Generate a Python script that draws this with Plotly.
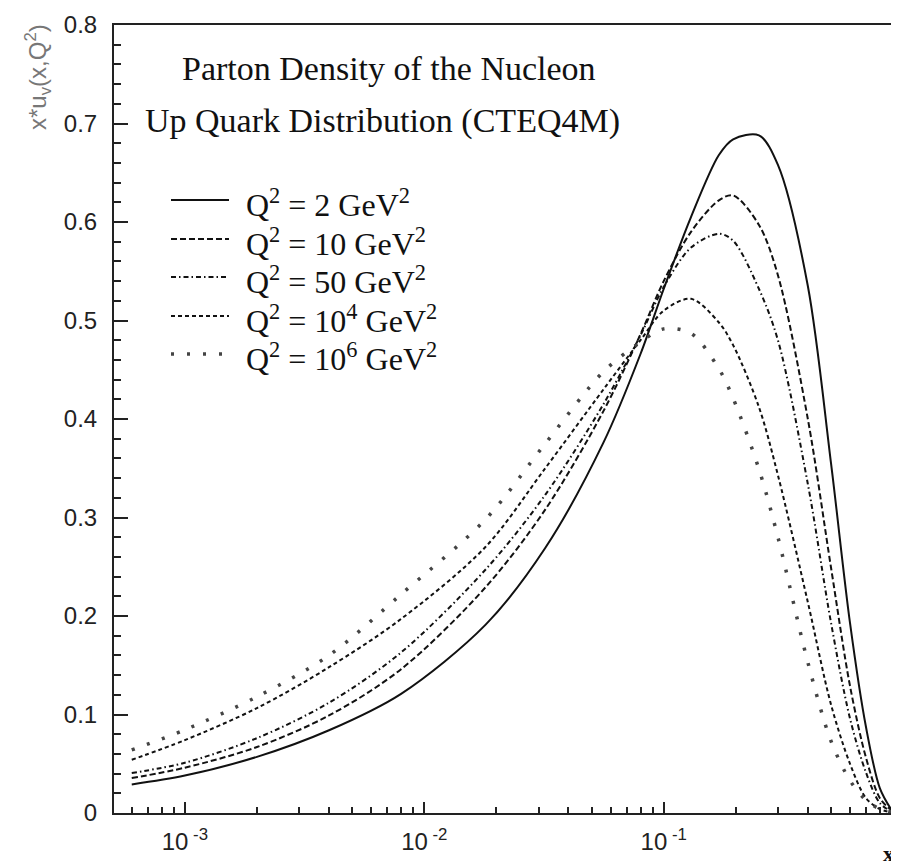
"""Parton density of the nucleon - up valence quark (CTEQ4M)"""
import plotly.graph_objects as go

# momentum fraction x (shared by all curves)
x_vals = [6e-4, 1e-3, 2e-3, 4e-3, 8e-3, 0.018, 0.032, 0.056, 0.08, 0.1,
          0.13, 0.17, 0.195, 0.25, 0.3, 0.4, 0.5, 0.6, 0.7, 0.8, 0.9]

# x*u_v(x, Q^2)
q2_2 = [0.029, 0.038, 0.057, 0.084, 0.121, 0.191, 0.269, 0.376, 0.466, 0.532,
        0.605, 0.668, 0.684, 0.688, 0.658, 0.535, 0.355, 0.193, 0.087, 0.025, 0.002]
q2_10 = [0.0355, 0.046, 0.067, 0.099, 0.146, 0.229, 0.308, 0.408, 0.486, 0.54,
         0.59, 0.622, 0.627, 0.597, 0.546, 0.40, 0.249, 0.129, 0.056, 0.015, 0.002]
q2_50 = [0.0406, 0.051, 0.076, 0.112, 0.163, 0.247, 0.323, 0.415, 0.485, 0.534,
         0.574, 0.588, 0.581, 0.532, 0.48, 0.334, 0.193, 0.096, 0.041, 0.01, 0.001]
q2_1e4 = [0.054, 0.074, 0.1065, 0.148, 0.197, 0.27, 0.35, 0.43, 0.48, 0.51,
          0.522, 0.498, 0.475, 0.412, 0.343, 0.214, 0.11, 0.05, 0.015, 0.004, 0.0005]
q2_1e6 = [0.064, 0.0845, 0.118, 0.16, 0.222, 0.298, 0.375, 0.448, 0.478, 0.4915,
          0.487, 0.451, 0.421, 0.349, 0.28, 0.153, 0.073, 0.033, 0.013, 0.004, 0.001]

labels = ["Q<sup>2</sup> = 2 GeV<sup>2</sup>",
          "Q<sup>2</sup> = 10 GeV<sup>2</sup>",
          "Q<sup>2</sup> = 50 GeV<sup>2</sup>",
          "Q<sup>2</sup> = 10<sup>4</sup> GeV<sup>2</sup>",
          "Q<sup>2</sup> = 10<sup>6</sup> GeV<sup>2</sup>"]

x_tickvals = [1e-3, 1e-2, 1e-1]
x_ticktext = ["10<sup> -3</sup>", "10<sup> -2</sup>", "10<sup> -1</sup>"]
x_minor = [m * 10.0 ** e for e in (-4, -3, -2, -1) for m in range(2, 10)]

series = [q2_2, q2_10, q2_50, q2_1e4, q2_1e6]
styles = [
    dict(dash="solid", width=2, color="#111"),
    dict(dash="6px,3px", width=2, color="#111"),
    dict(dash="5px,3px,1.5px,3px", width=2, color="#111"),
    dict(dash="4px,3px", width=2, color="#111"),
    dict(dash="3px,13px", width=3.5, color="#444"),
]

# plot area in pixels (figure 899 x 863)
L, R, T, B = 106, 892, 17, 805


def px(x):
    return (x - L) / (R - L)


def py(y):
    return (B - y) / (B - T)


fig = go.Figure()
for ys, st, lab in zip(series, styles, labels):
    fig.add_trace(go.Scatter(x=x_vals, y=ys, mode="lines", name=lab,
                             line=dict(shape="spline", smoothing=0.9, **st),
                             showlegend=False))

serif = "Liberation Serif, Times New Roman, serif"
sans = "Liberation Sans, Arial, sans-serif"

annotations = [
    dict(text="Parton Density of the Nucleon", x=px(381), y=py(60)),
    dict(text="Up Quark Distribution (CTEQ4M)", x=px(374), y=py(113)),
]
for a in annotations:
    a.update(xref="paper", yref="paper", showarrow=False,
             xanchor="center", yanchor="middle",
             font=dict(family=serif, size=34, color="#111"))

shapes = []
row_y = [192, 231, 269, 308, 346]
for ry, st, lab in zip(row_y, styles, labels):
    shapes.append(dict(type="line", xref="paper", yref="paper",
                       x0=px(163), x1=px(221), y0=py(ry), y1=py(ry),
                       line=st))
    annotations.append(dict(text=lab, xref="paper", yref="paper",
                            x=px(236), y=py(ry + 3), xanchor="left",
                            yanchor="middle", showarrow=False,
                            font=dict(family=serif, size=32, color="#111")))

# axis titles
annotations.append(dict(text="x*u<sub>v</sub>(x,Q<sup>2</sup>)", textangle=-90,
                        xref="paper", yref="paper", x=px(30), y=py(14),
                        xanchor="center", yanchor="top", showarrow=False,
                        font=dict(family=sans, size=24, color="#777")))
annotations.append(dict(text="<b>x</b>", xref="paper", yref="paper",
                        x=px(880), y=py(845), xanchor="center",
                        yanchor="middle", showarrow=False,
                        font=dict(family=serif, size=22, color="#111")))

fig.update_layout(
    width=899, height=863,
    margin=dict(l=L, r=899 - R, t=T, b=863 - B, autoexpand=False),
    paper_bgcolor="white", plot_bgcolor="white",
    annotations=annotations, shapes=shapes,
    font=dict(family=sans, size=24, color="#222"),
)

fig.update_xaxes(
    type="log", range=[-3.296, -0.013], automargin=False,
    tickmode="array", tickvals=x_tickvals, ticktext=x_ticktext,
    ticks="inside", ticklen=11, tickwidth=2, tickcolor="#222",
    minor=dict(tickmode="array", tickvals=x_minor, ticks="inside",
               ticklen=6, tickwidth=2, tickcolor="#222"),
    showline=True, linewidth=2, linecolor="#222", mirror=True,
    showgrid=False, zeroline=False, ticklabelstandoff=6,
    tickfont=dict(family=sans, size=24, color="#222"),
)
fig.update_yaxes(
    range=[0, 0.8], tick0=0, dtick=0.1, automargin=False,
    ticks="inside", ticklen=14, tickwidth=2, tickcolor="#222",
    minor=dict(dtick=0.02, ticks="inside", ticklen=7, tickwidth=2,
               tickcolor="#222"),
    showline=True, linewidth=2, linecolor="#222", mirror=True,
    showgrid=False, zeroline=False, ticklabelstandoff=10,
    tickfont=dict(family=sans, size=24, color="#222"),
)

fig.write_html("out.html")
